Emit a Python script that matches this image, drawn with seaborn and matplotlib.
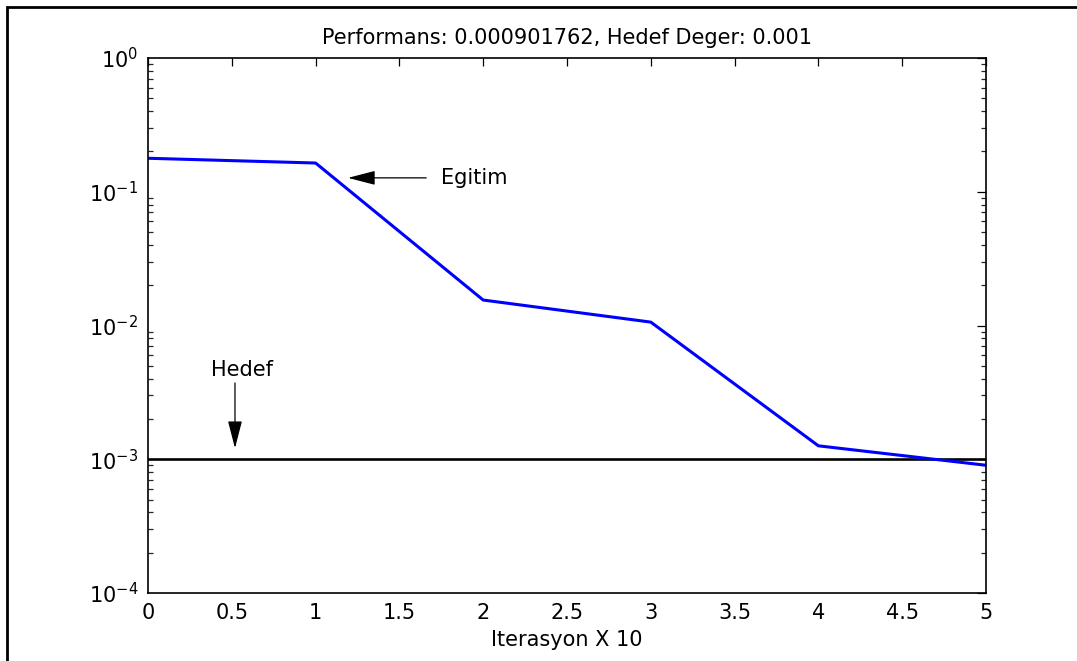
import numpy as np
import pandas as pd
import matplotlib
matplotlib.use("Agg")
import matplotlib.pyplot as plt
from matplotlib.patches import Rectangle
from matplotlib.ticker import LogLocator, FixedLocator, FuncFormatter
import seaborn as sns

# Training performance per epoch block (x = iterations / 10)
iterations = [0, 1, 2, 3, 4, 5]
performance = [0.178, 0.164, 0.0155, 0.0106, 0.00126, 0.000901762]
goal = 0.001
x_ticks = [0, 0.5, 1, 1.5, 2, 2.5, 3, 3.5, 4, 4.5, 5]
title_text = "Performans: 0.000901762, Hedef Deger: 0.001"
x_label = "Iterasyon X 10"
train_label = "Egitim"
goal_label = "Hedef"

sns.set_style("white")
plt.rcParams["font.family"] = ["DejaVu Sans"]
plt.rcParams["text.color"] = "black"
plt.rcParams["axes.labelcolor"] = "black"
plt.rcParams["mathtext.fontset"] = "custom"
plt.rcParams["mathtext.rm"] = "DejaVu Sans"
plt.rcParams["mathtext.it"] = "DejaVu Sans"
plt.rcParams["mathtext.bf"] = "DejaVu Sans"
plt.rcParams["mathtext.default"] = "rm"
plt.rcParams["axes.unicode_minus"] = False

fs = 15
fig = plt.figure(figsize=(10.77, 6.61), dpi=100)
W, H = 1077, 661
ax = fig.add_axes([148 / W, 1 - 593 / H, (986 - 148) / W, (593 - 58) / H])

df = pd.DataFrame({"iter": iterations, "perf": performance})
sns.lineplot(data=df, x="iter", y="perf", ax=ax, color="#0000ff", lw=2.2)
ax.axhline(goal, color="black", lw=1.9, zorder=1)

ax.set_yscale("log")
ax.set_xlim(0, 5)
ax.set_ylim(1e-4, 1e0)

ax.xaxis.set_major_locator(FixedLocator(x_ticks))
ax.xaxis.set_major_formatter(FuncFormatter(lambda v, p: f"{v:g}"))
ax.yaxis.set_major_locator(LogLocator(base=10, numticks=10))
ax.yaxis.set_minor_locator(LogLocator(base=10, subs=np.arange(2, 10), numticks=20))
ax.yaxis.set_major_formatter(FuncFormatter(lambda v, p: r"$10^{%d}$" % round(np.log10(v))))
ax.yaxis.set_minor_formatter(FuncFormatter(lambda v, p: ""))

ax.tick_params(axis="x", which="major", direction="in", length=5.5, width=0.9, top=True,
               labelsize=fs, colors="black", pad=7)
ax.tick_params(axis="y", which="major", direction="in", length=6.5, width=0.9, right=True,
               labelsize=fs, colors="black", pad=7)
ax.tick_params(which="minor", direction="in", length=3.5, width=0.9, left=True, right=True)
for s in ax.spines.values():
    s.set_color("black")
    s.set_linewidth(1.2)

ax.set_xlabel(x_label, fontsize=fs, labelpad=5)
ax.set_ylabel("")
ax.set_title(title_text, fontsize=fs, pad=10)

# annotations
arrow = dict(arrowstyle="-|>,head_length=0.85,head_width=0.22", color="black", lw=0.9,
             mutation_scale=20, shrinkA=0, shrinkB=0)
ax.annotate("", xy=(1.193, 0.127), xytext=(1.66, 0.127), arrowprops=arrow)
ax.text(1.75, 0.127, train_label, fontsize=fs, va="center", ha="left")
ax.annotate("", xy=(0.519, 0.00121), xytext=(0.519, 0.00372), arrowprops=arrow)
ax.text(0.56, 0.00464, goal_label, fontsize=fs, va="center", ha="center")

# figure frame
fig.add_artist(Rectangle((7 / W, -0.1), 1.2, 1.1 - 7 / H, transform=fig.transFigure,
                         fill=False, edgecolor="black", lw=2.0))

fig.savefig("out.png", dpi=100)
